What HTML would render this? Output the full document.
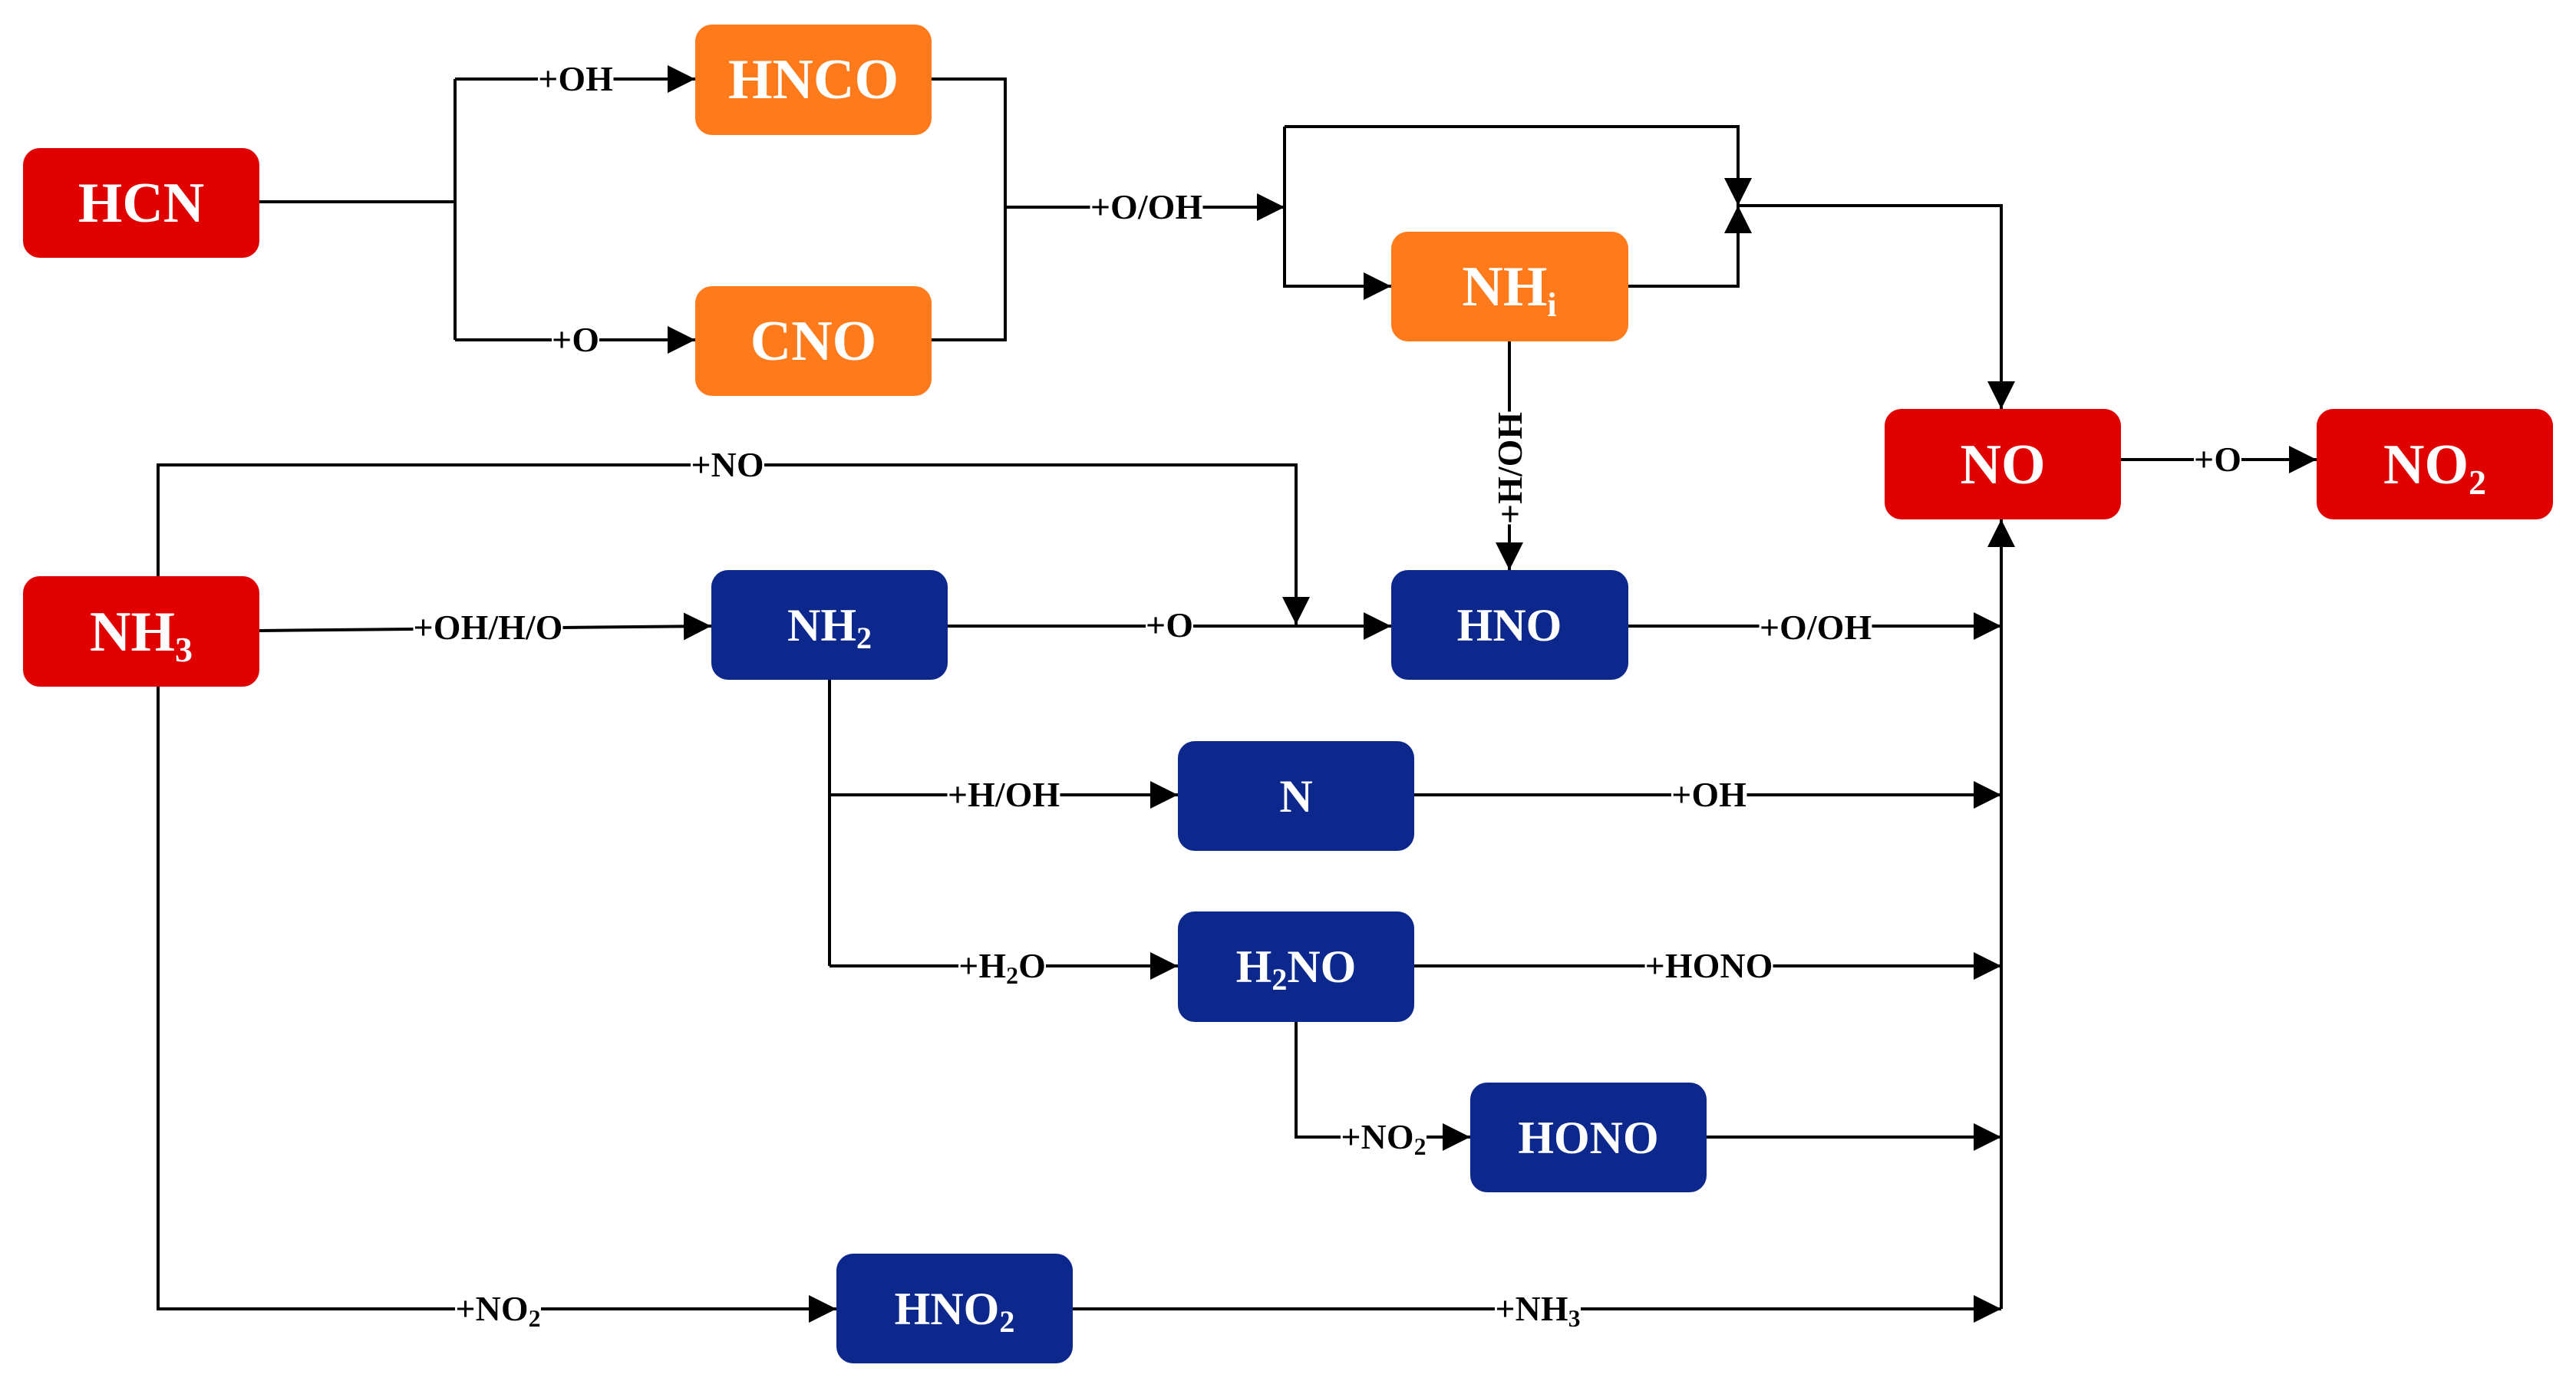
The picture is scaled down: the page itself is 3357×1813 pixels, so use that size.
<!DOCTYPE html>
<html><head><meta charset="utf-8"><style>
html,body{margin:0;padding:0;background:#fff}
svg{display:block}
.n{font-family:"Liberation Serif",serif;font-weight:bold;font-size:74px;fill:#fff;text-anchor:middle}
.l{font-family:"Liberation Serif",serif;font-weight:bold;font-size:46px;fill:#000;text-anchor:middle}
</style></head><body>
<svg width="3357" height="1813" viewBox="0 0 3357 1813" xmlns="http://www.w3.org/2000/svg">
<defs><marker id="b" viewBox="0 0 10 10" refX="10" refY="5" markerWidth="36" markerHeight="36" markerUnits="userSpaceOnUse" orient="auto"><path d="M0,0L10,5L0,10z"/></marker>
<filter id="bg" x="0" y="0" width="1" height="1"><feFlood flood-color="#fff"/><feComposite in="SourceGraphic"/></filter></defs>
<g fill="none" stroke="#000" stroke-width="4">
<path d="M338,263H593M593,103V443M593,103H906" marker-end="url(#b)"/>
<path d="M593,443H906" marker-end="url(#b)"/>
<path d="M1214,103H1310V443H1214M1310,270H1674" marker-end="url(#b)"/>
<path d="M1674,165V373H1813" marker-end="url(#b)"/>
<path d="M1674,165H2265V268" marker-end="url(#b)"/>
<path d="M2122,373H2265V268" marker-end="url(#b)"/>
<path d="M2265,268H2608V533" marker-end="url(#b)"/>
<path d="M1967,445V743" marker-end="url(#b)"/>
<path d="M2764,599H3019" marker-end="url(#b)"/>
<path d="M206,751V606H1689V814" marker-end="url(#b)"/>
<path d="M338,822L927,816" marker-end="url(#b)"/>
<path d="M1235,816H1813" marker-end="url(#b)"/>
<path d="M2122,816H2608" marker-end="url(#b)"/>
<path d="M2608,1706V677" marker-end="url(#b)"/>
<path d="M1081,886V1259M1081,1036H1535" marker-end="url(#b)"/>
<path d="M1081,1259H1535" marker-end="url(#b)"/>
<path d="M1843,1036H2608" marker-end="url(#b)"/>
<path d="M1843,1259H2608" marker-end="url(#b)"/>
<path d="M1689,1332V1482H1916" marker-end="url(#b)"/>
<path d="M2224,1482H2608" marker-end="url(#b)"/>
<path d="M206,895V1706H1090" marker-end="url(#b)"/>
<path d="M1398,1706H2608" marker-end="url(#b)"/>
</g>
<g>
<rect x="30" y="193" width="308" height="143" rx="22" fill="#e00000"/>
<rect x="906" y="32" width="308" height="144" rx="22" fill="#ff7a1a"/>
<rect x="906" y="373" width="308" height="143" rx="22" fill="#ff7a1a"/>
<rect x="1813" y="302" width="309" height="143" rx="22" fill="#ff7a1a"/>
<rect x="2456" y="533" width="308" height="144" rx="22" fill="#e00000"/>
<rect x="3019" y="533" width="308" height="144" rx="22" fill="#e00000"/>
<rect x="30" y="751" width="308" height="144" rx="22" fill="#e00000"/>
<rect x="927" y="743" width="308" height="143" rx="22" fill="#0c288c"/>
<rect x="1813" y="743" width="309" height="143" rx="22" fill="#0c288c"/>
<rect x="1535" y="966" width="308" height="143" rx="22" fill="#0c288c"/>
<rect x="1535" y="1188" width="308" height="144" rx="22" fill="#0c288c"/>
<rect x="1916" y="1411" width="308" height="143" rx="22" fill="#0c288c"/>
<rect x="1090" y="1634" width="308" height="143" rx="22" fill="#0c288c"/>
</g>
<g class="n">
<text x="184" y="289">HCN</text>
<text x="1060" y="128">HNCO</text>
<text x="1060" y="469">CNO</text>
<text x="1967" y="398">NH<tspan font-size="44" dy="14">i</tspan></text>
<text x="2610" y="630">NO</text>
<text x="3173" y="630">NO<tspan font-size="46" dy="14">2</tspan></text>
<text x="184" y="848">NH<tspan font-size="46" dy="14">3</tspan></text>
</g>
<g class="n" style="font-size:60px">
<text x="1081" y="835">NH<tspan font-size="40" dy="10">2</tspan></text>
<text x="1967" y="835">HNO</text>
<text x="1689" y="1058">N</text>
<text x="1689" y="1280">H<tspan font-size="40" dy="10">2</tspan><tspan dy="-10">NO</tspan></text>
<text x="2070" y="1503">HONO</text>
<text x="1244" y="1726">HNO<tspan font-size="40" dy="10">2</tspan></text>
</g>
<g class="l">
<text x="750" y="118" filter="url(#bg)">+OH</text>
<text x="750" y="458" filter="url(#bg)">+O</text>
<text x="1494" y="285" filter="url(#bg)">+O/OH</text>
<text x="2890" y="614" filter="url(#bg)">+O</text>
<text x="948" y="621" filter="url(#bg)">+NO</text>
<text x="636" y="833" filter="url(#bg)">+OH/H/O</text>
<text x="1524" y="830" filter="url(#bg)">+O</text>
<text x="2366" y="833" filter="url(#bg)">+O/OH</text>
<text x="1308" y="1051" filter="url(#bg)">+H/OH</text>
<text x="2227" y="1051" filter="url(#bg)">+OH</text>
<text x="1306" y="1274" filter="url(#bg)">+H<tspan font-size="32" dy="8">2</tspan><tspan dy="-8">O</tspan></text>
<text x="2227" y="1274" filter="url(#bg)">+HONO</text>
<text x="1803" y="1497" filter="url(#bg)">+NO<tspan font-size="32" dy="8">2</tspan></text>
<text x="649" y="1721" filter="url(#bg)">+NO<tspan font-size="32" dy="8">2</tspan></text>
<text x="2004" y="1721" filter="url(#bg)">+NH<tspan font-size="32" dy="8">3</tspan></text>
<text transform="translate(1983,610) rotate(-90)" filter="url(#bg)">+H/OH</text>
</g>
</svg>
</body></html>
